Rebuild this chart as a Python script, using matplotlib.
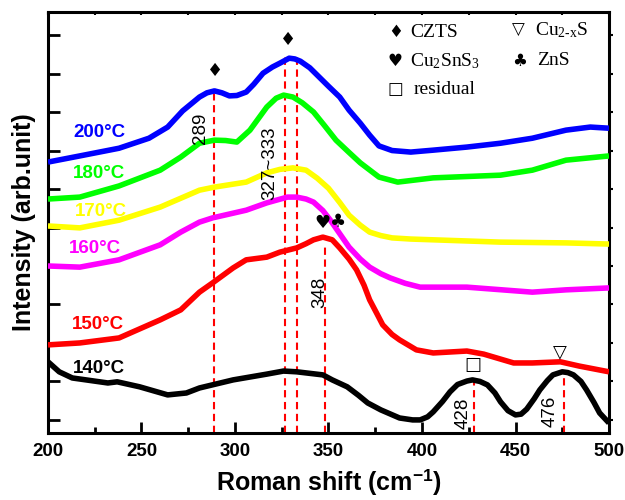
import matplotlib
matplotlib.use('Agg')
import matplotlib.pyplot as plt

plt.rcParams['font.family'] = ['Liberation Sans', 'DejaVu Sans']
plt.rcParams['mathtext.fontset'] = 'custom'
plt.rcParams['mathtext.rm'] = 'Liberation Serif'
plt.rcParams['mathtext.it'] = 'Liberation Serif:italic'
plt.rcParams['mathtext.bf'] = 'Liberation Sans:bold'

# Raman spectra (offset, arb. units)
x_200 = [200, 217, 238, 254, 264, 272, 281, 285, 289, 293, 297, 301, 306, 310, 315, 320, 324, 329, 332, 335, 340, 345, 350, 356, 361, 367, 372, 377, 384, 394, 406, 424, 442, 459, 477, 490, 500]
y_200 = [6.70, 6.86, 7.06, 7.32, 7.61, 8.03, 8.39, 8.50, 8.55, 8.50, 8.42, 8.43, 8.52, 8.72, 9.01, 9.17, 9.27, 9.40, 9.38, 9.32, 9.15, 8.91, 8.67, 8.39, 8.05, 7.71, 7.40, 7.12, 7.00, 6.96, 7.01, 7.09, 7.19, 7.32, 7.53, 7.61, 7.58]

x_180 = [200, 217, 238, 260, 271, 281, 289, 295, 301, 308, 317, 322, 326, 331, 336, 342, 348, 354, 361, 367, 377, 387, 406, 442, 459, 477, 500]
y_180 = [5.74, 5.79, 6.08, 6.49, 6.83, 7.19, 7.27, 7.26, 7.22, 7.53, 8.13, 8.36, 8.44, 8.39, 8.24, 8.00, 7.64, 7.27, 6.95, 6.68, 6.31, 6.18, 6.29, 6.36, 6.49, 6.75, 6.86]

x_170 = [200, 217, 238, 260, 281, 289, 306, 317, 324, 331, 338, 344, 350, 356, 361, 367, 372, 378, 384, 394, 406, 442, 477, 500]
y_170 = [5.04, 4.99, 5.19, 5.53, 5.97, 6.05, 6.18, 6.42, 6.51, 6.55, 6.49, 6.28, 6.02, 5.65, 5.32, 5.06, 4.88, 4.79, 4.73, 4.70, 4.68, 4.62, 4.60, 4.57]

x_160 = [200, 217, 238, 260, 271, 281, 288, 306, 317, 328, 333, 338, 342, 347, 351, 356, 361, 367, 372, 378, 383, 391, 399, 424, 459, 477, 500]
y_160 = [4.00, 3.97, 4.16, 4.55, 4.88, 5.14, 5.25, 5.45, 5.64, 5.79, 5.79, 5.74, 5.66, 5.44, 5.19, 4.84, 4.49, 4.18, 3.97, 3.80, 3.69, 3.55, 3.45, 3.45, 3.32, 3.38, 3.43]

x_150 = [200, 217, 238, 260, 271, 281, 288, 299, 306, 317, 324, 333, 338, 342, 347, 352, 356, 361, 365, 369, 372, 376, 379, 384, 388, 397, 406, 424, 433, 449, 459, 474, 484, 500]
y_150 = [1.95, 2.00, 2.13, 2.60, 2.86, 3.32, 3.56, 3.95, 4.16, 4.23, 4.36, 4.47, 4.58, 4.68, 4.75, 4.68, 4.47, 4.18, 3.90, 3.50, 3.12, 2.75, 2.47, 2.22, 2.08, 1.82, 1.74, 1.79, 1.71, 1.48, 1.48, 1.51, 1.40, 1.25]

x_140 = [200, 206, 213, 232, 237, 249, 264, 274, 281, 299, 317, 326, 333, 347, 352, 360, 366, 371, 378, 388, 395, 399, 403, 406, 411, 415, 419, 424, 427, 431, 435, 439, 442, 446, 450, 453, 456, 460, 463, 467, 470, 475, 478, 481, 485, 488, 492, 495, 500]
y_140 = [1.51, 1.25, 1.09, 0.96, 0.99, 0.86, 0.65, 0.70, 0.83, 1.04, 1.19, 1.27, 1.25, 1.17, 1.04, 0.86, 0.64, 0.44, 0.26, 0.05, 0.00, 0.00, 0.08, 0.21, 0.48, 0.73, 0.92, 1.01, 1.04, 1.00, 0.91, 0.70, 0.47, 0.24, 0.13, 0.15, 0.28, 0.55, 0.78, 1.02, 1.17, 1.25, 1.23, 1.17, 1.00, 0.78, 0.45, 0.18, -0.08]

series_x = [x_200, x_180, x_170, x_160, x_150, x_140]
series_y = [y_200, y_180, y_170, y_160, y_150, y_140]
temps = ['200°C', '180°C', '170°C', '160°C', '150°C', '140°C']
colors = ['#0000ff', '#00ff00', '#ffff00', '#ff00ff', '#ff0000', '#000000']

# peak positions and where each dashed line starts
peaks = [289, 327, 333, 348, 428, 476]
peak_tops = [8.55, 9.53, 9.53, 4.60, 1.04, 1.25]
peak_labels = ['289', '327~333', '348', '428', '476']

fig = plt.figure(figsize=(6.25, 5), dpi=100)
ax = fig.add_axes([0.0768, 0.134, 0.8976, 0.842])

for xs, ys, c in zip(series_x, series_y, colors):
    ax.plot(xs, ys, color=c, lw=4, solid_capstyle='butt', solid_joinstyle='round', zorder=3)

ax.set_xlim(200, 500)
ax.set_ylim(-0.34, 10.6)

ax.vlines(peaks, -0.34, peak_tops, colors='#ff0000', linestyles=(0, (3.5, 2.2)), lw=1.5, zorder=2)

# temperature labels
lab_x = [213.5, 213.2, 214.4, 211.4, 212.7, 213.5]
lab_y = [7.35, 6.29, 5.30, 4.34, 2.36, 1.22]
for t, c, lx, ly in zip(temps, colors, lab_x, lab_y):
    ax.text(lx, ly, t, color=c, fontsize=13.5, fontweight='bold', ha='left', va='baseline', zorder=4)

# peak position labels
pl_x = [281.3, 318.7, 345.5, 421.9, 468.4]
pl_y = [7.58, 6.68, 3.32, 0.18, 0.23]
for s, px, py in zip(peak_labels, pl_x, pl_y):
    ax.text(px, py, s, rotation=90, fontsize=13.5, ha='center', va='center', zorder=4)

# phase symbols above peaks
sym_kw = dict(ha='center', va='center', fontsize=13, family=['DejaVu Sans'], zorder=4)
ax.text(289.3, 9.06, '♦', **sym_kw)
ax.text(328.3, 9.87, '♦', **sym_kw)
ax.text(347.0, 5.12, '♥', **sym_kw)
ax.text(355.0, 5.14, '♣', **sym_kw)
ax.text(427.3, 1.43, '□', **sym_kw)
ax.text(473.8, 1.77, '▽', **sym_kw)

# legend of phases
leg_sym = ['♦', '▽', '♥', '♣', '□']
leg_txt = ['CZTS', r'Cu$_{\mathrm{2}\text{-}\mathrm{x}}$S', r'Cu$_{\mathrm{2}}$SnS$_{\mathrm{3}}$', 'ZnS', 'residual']
leg_sx = [0.619, 0.838, 0.619, 0.840, 0.620]
leg_tx = [0.645, 0.868, 0.645, 0.872, 0.652]
leg_y = [0.952, 0.957, 0.884, 0.884, 0.817]
for s, t, sx, tx, ly in zip(leg_sym, leg_txt, leg_sx, leg_tx, leg_y):
    ax.text(sx, ly, s, transform=ax.transAxes, ha='center', va='center', fontsize=12, family=['DejaVu Sans'])
    ax.text(tx, ly, t, transform=ax.transAxes, ha='left', va='center', fontsize=14, family=['Liberation Serif'])

# axes styling
for sp in ax.spines.values():
    sp.set_linewidth(2.2)
ax.set_xticks([200, 250, 300, 350, 400, 450, 500])
ax.set_xticks([225, 275, 325, 375, 425, 475], minor=True)
ax.set_yticks(range(0, 11))
ax.set_yticklabels([])
ax.tick_params(axis='x', which='major', direction='in', length=8, width=2, pad=7, labelsize=13.5)
ax.tick_params(axis='x', which='minor', direction='in', length=4, width=2)
ax.tick_params(axis='y', which='major', direction='in', length=8.5, width=2)
for lbl in ax.get_xticklabels():
    lbl.set_fontweight('bold')

top = ax.secondary_xaxis('top')
top.set_xticks(range(200, 501, 25))
top.set_xticklabels([])
top.tick_params(direction='in', length=2.5, width=1.5)
top.spines['top'].set_visible(False)

right = ax.secondary_yaxis('right')
right.set_yticks(range(0, 11))
right.set_yticklabels([])
right.tick_params(direction='out', length=3, width=1.5)
right.spines['right'].set_visible(False)

ax.set_xlabel(r'Roman shift (cm$^{\mathbf{-1}}$)', fontsize=18, fontweight='bold', labelpad=5)
ax.set_ylabel('Intensity (arb.unit)', fontsize=18, fontweight='bold', labelpad=5)

fig.savefig('out.png', dpi=100)
